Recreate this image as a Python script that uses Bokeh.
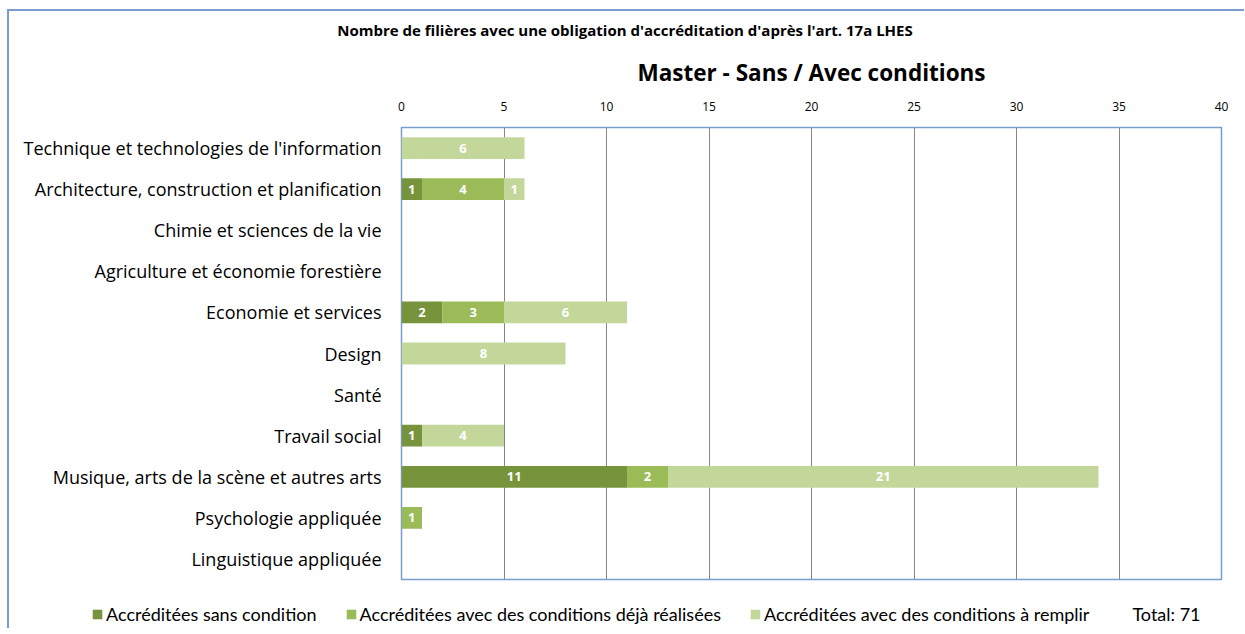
from bokeh.plotting import figure
from bokeh.layouts import column
from bokeh.models import FactorRange, ColumnDataSource, Title, Legend, LegendItem, LabelSet, Label, FixedTicker, Range1d
from bokeh.core.properties import value
from bokeh.embed import file_html
from bokeh.resources import INLINE

categories = [
    "Technique et technologies de l'information",
    "Architecture, construction et planification",
    "Chimie et sciences de la vie",
    "Agriculture et économie forestière",
    "Economie et services",
    "Design",
    "Santé",
    "Travail social",
    "Musique, arts de la scène et autres arts",
    "Psychologie appliquée",
    "Linguistique appliquée",
]
sans_condition = [0, 1, 0, 0, 2, 0, 0, 1, 11, 0, 0]
conditions_realisees = [0, 4, 0, 0, 3, 0, 0, 0, 2, 1, 0]
conditions_a_remplir = [6, 1, 0, 0, 6, 8, 0, 4, 21, 0, 0]
series_names = [
    "Accréditées sans condition",
    "Accréditées avec des conditions déjà réalisées",
    "Accréditées avec des conditions à remplir",
]
colors = ["#77933C", "#9BBB59", "#C4D79B"]
total_label = "Total: 71"
x_ticks = [0, 5, 10, 15, 20, 25, 30, 35, 40]
main_title = "Master - Sans / Avec conditions"
sub_title = "Nombre de filières avec une obligation  d'accréditation d'après l'art. 17a LHES"

FONT = "Open Sans"
LFONT = "Lato"
BORDER = "#7A9CCF"

# subtitle strip above the chart
st = figure(width=1235, height=32, x_range=Range1d(0, 1), y_range=Range1d(0, 1),
            x_axis_type=None, y_axis_type=None, output_backend="svg", toolbar_location=None,
            min_border=0, outline_line_color=None)
st.grid.visible = False
st.add_layout(Label(x=0.5, y=0.41, text=sub_title, text_align="center", text_baseline="middle",
                    text_font=FONT, text_font_size="15px", text_font_style="bold",
                    text_color="#000000"))

p = figure(
    width=1235, height=557,
    y_range=FactorRange(*reversed(categories)),
    x_range=Range1d(0, 40),
    x_axis_location="above",
    output_backend="svg", toolbar_location=None,
    min_border_left=392, min_border_right=23,
    min_border_top=70, min_border_bottom=21,
)
p.title.text = ""

src = ColumnDataSource(dict(
    cat=categories,
    s0=sans_condition, s1=conditions_realisees, s2=conditions_a_remplir,
))
keys = ["s0", "s1", "s2"]
rends = p.hbar_stack(keys, y="cat", height=0.53, color=colors, source=src, line_color=None)

# data labels
for i, k in enumerate(keys):
    vals = src.data[k]
    lefts = [sum(src.data[kk][j] for kk in keys[:i]) for j in range(len(categories))]
    xs, ys, ts = [], [], []
    for j, v in enumerate(vals):
        if v > 0:
            xs.append(lefts[j] + v / 2)
            ys.append(categories[j])
            ts.append(str(v))
    ls = ColumnDataSource(dict(x=xs, y=ys, t=ts))
    p.add_layout(LabelSet(x="x", y="y", text="t", source=ls, text_color="white",
                          text_font=value(FONT), text_font_style="bold", text_font_size="13px",
                          text_align="center", text_baseline="middle"))

# axes
p.xaxis.ticker = FixedTicker(ticks=x_ticks)
p.xaxis.major_tick_line_color = None
p.xaxis.minor_tick_line_color = None
p.xaxis.axis_line_color = None
p.xaxis.major_label_text_font = FONT
p.xaxis.major_label_text_font_size = "12px"
p.xaxis.major_label_text_color = "#000000"
p.xaxis.major_label_standoff = 11

p.yaxis.major_tick_line_color = None
p.yaxis.minor_tick_line_color = None
p.yaxis.axis_line_color = None
p.yaxis.major_label_text_font = FONT
p.yaxis.major_label_text_font_size = "18px"
p.yaxis.major_label_text_color = "#000000"
p.yaxis.major_label_standoff = 14

p.xgrid.grid_line_color = "#868686"
p.ygrid.grid_line_color = None
p.outline_line_color = BORDER
p.outline_line_width = 1.5

p.add_layout(Title(text=main_title, align="center", standoff=22,
                   text_font=FONT, text_font_size="22.5px", text_font_style="bold",
                   text_color="#000000"), "above")

# legend in a separate strip below the chart
lg = figure(width=1235, height=28, x_range=Range1d(0, 1), y_range=Range1d(0, 1),
            x_axis_type=None, y_axis_type=None, output_backend="svg", toolbar_location=None,
            min_border=0, outline_line_color=None)
lg.grid.visible = False
for f in (st, p, lg):
    try:
        f.frame_align = False
    except Exception:
        pass
lsrc = ColumnDataSource(dict(y=[5], l=[5], r=[6]))
lrends = [lg.hbar(y="y", left="l", right="r", height=1, color=c, source=lsrc, line_color=None)
          for c in colors]
dummy = lg.scatter(x=[5], y=[5], size=0, alpha=0)
items = [LegendItem(label=series_names[i], renderers=[lrends[i]]) for i in range(3)]
items.append(LegendItem(label=total_label, renderers=[dummy]))
legend = Legend(items=items, orientation="horizontal", location=(82, 3),
                label_text_font=LFONT, label_text_font_size="18px", label_text_color="#000000",
                glyph_width=12, glyph_height=12, label_standoff=3, spacing=28,
                border_line_color=None, background_fill_alpha=0, padding=2, margin=0)
lg.add_layout(legend, "center")

layout = column(st, p, lg, spacing=0)
layout.styles = {"margin-left": "7px", "margin-top": "9px",
                 "border-left": "2px solid " + BORDER, "border-top": "2px solid " + BORDER}
open("out.html", "w").write(file_html(layout, INLINE))
